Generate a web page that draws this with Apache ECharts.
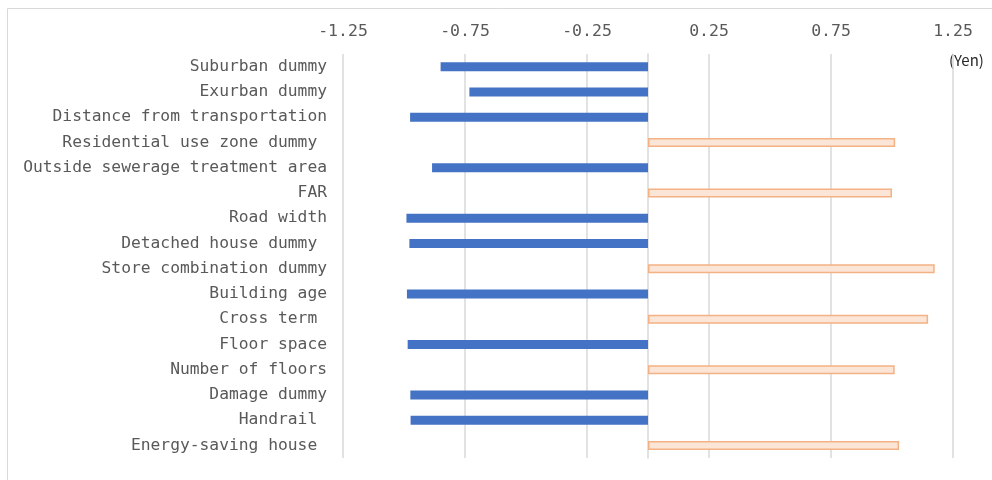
<!DOCTYPE html>
<html lang="en">

<head>
    <meta charset="UTF-8">
    <title>Coefficients</title>
    <style>
        html, body { margin: 0; padding: 0; background: #fff; }
        #echart { width: 992px; height: 480px; }
    </style>
</head>

<body>
    <div id="echart"></div>
    <script src="https://cdn.jsdelivr.net/npm/echarts@6/dist/echarts.min.js"></script>
    <script>
        // categories, top to bottom
        const categories = [
            'Suburban dummy',
            'Exurban dummy',
            'Distance from transportation',
            'Residential use zone dummy ',
            'Outside sewerage treatment area',
            'FAR',
            'Road width',
            'Detached house dummy ',
            'Store combination dummy',
            'Building age',
            'Cross term ',
            'Floor space',
            'Number of floors',
            'Damage dummy',
            'Handrail ',
            'Energy-saving house '
        ]
        // coefficient values
        const values = [-0.85, -0.732, -0.975, 1.013, -0.885, 1.0, -0.99, -0.978,
            1.175, -0.988, 1.148, -0.985, 1.011, -0.974, -0.973, 1.029]
        const xTicks = { min: -1.25, max: 1.25, interval: 0.5 }

        const negValues = values.map(v => v < 0 ? v : '-')
        const posValues = values.map(v => v > 0 ? v : '-')

        const font = 'DejaVu Sans Mono'
        const echart = echarts.init(document.getElementById('echart'))

        echart.setOption({
            animation: false,
            grid: { left: 343, right: 39, top: 54, bottom: 22 },
            xAxis: {
                type: 'value',
                position: 'top',
                min: xTicks.min,
                max: xTicks.max,
                interval: xTicks.interval,
                axisLine: { show: false },
                axisTick: { show: false },
                axisLabel: {
                    margin: 14,
                    color: '#595959',
                    fontFamily: font,
                    fontSize: 16.5,
                    formatter: v => v.toFixed(2)
                },
                splitLine: { lineStyle: { color: '#d9d9d9', width: 1.5 } }
            },
            yAxis: {
                type: 'category',
                inverse: true,
                data: categories,
                axisLine: { lineStyle: { color: '#d9d9d9', width: 1.5 } },
                axisTick: { show: false },
                axisLabel: {
                    margin: 16,
                    color: '#595959',
                    fontFamily: font,
                    fontSize: 16.3
                }
            },
            series: [
                {
                    type: 'bar',
                    stack: 'all',
                    data: negValues,
                    barWidth: 9,
                    itemStyle: { color: '#4472C4' }
                },
                {
                    type: 'bar',
                    stack: 'all',
                    data: posValues,
                    barWidth: 8,
                    itemStyle: { color: '#FBE5D6', borderColor: '#F4B183', borderWidth: 1.5 }
                }
            ],
            graphic: [
                {
                    type: 'rect',
                    shape: { x: 7.5, y: 8.5, width: 1000, height: 500 },
                    style: { fill: 'none', stroke: '#d9d9d9', lineWidth: 1 },
                    silent: true
                },
                {
                    type: 'text',
                    left: 949,
                    top: 53,
                    style: { text: '(Yen)', fill: '#262626', fontFamily: 'Noto Sans CJK JP', fontSize: 15 }
                }
            ]
        })
    </script>
</body>

</html>
